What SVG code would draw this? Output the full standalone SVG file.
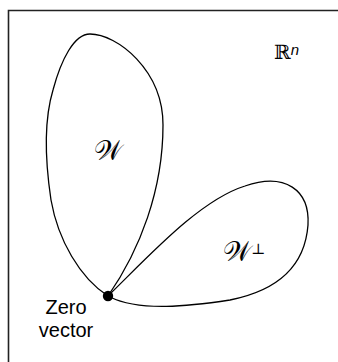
<svg xmlns="http://www.w3.org/2000/svg" width="338" height="362" viewBox="0 0 338 362">
<style>
.frame{fill:none;stroke:#222;stroke-width:1.6}
.lobe{fill:none;stroke:#000;stroke-width:1.3}
.lbl{font-family:"Liberation Sans",Arial,sans-serif;font-size:20px;fill:#000}
.math{font-family:"DejaVu Serif","Liberation Serif",serif;fill:#000}
</style>
<path class="frame" d="M8.5,362 V10.5 H338"/>
<g id="W">
<path class="lobe" d="M108,296 C80,278 58,240 51,200 C45,160 44,120 53,90 C61,60 74,34 90,34 C117,34 163,70 163,125 C163,190 140,250 108,296 Z"/>
<text class="math" x="108" y="160" font-size="27" text-anchor="middle">𝒲</text>
</g>
<g id="Wperp">
<path class="lobe" d="M110,294 C150,255 200,200 245,186 C285,172 310,190 308,225 C305,265 280,290 230,300 C190,306 140,312 110,297"/>
<text class="math" x="244" y="261" font-size="27" text-anchor="middle">𝒲<tspan font-size="15" dy="-7">⊥</tspan></text>
</g>
<g id="Rn">
<text class="math" x="274" y="59" font-size="20">ℝ<tspan font-size="15" font-style="italic" dy="-4" font-family="Liberation Sans">n</tspan></text>
</g>
<g id="zero">
<circle cx="108" cy="296" r="5.2" fill="#000"/>
<text class="lbl" x="66" y="314" text-anchor="middle">Zero</text>
<text class="lbl" x="66" y="337" text-anchor="middle">vector</text>
</g>
</svg>
